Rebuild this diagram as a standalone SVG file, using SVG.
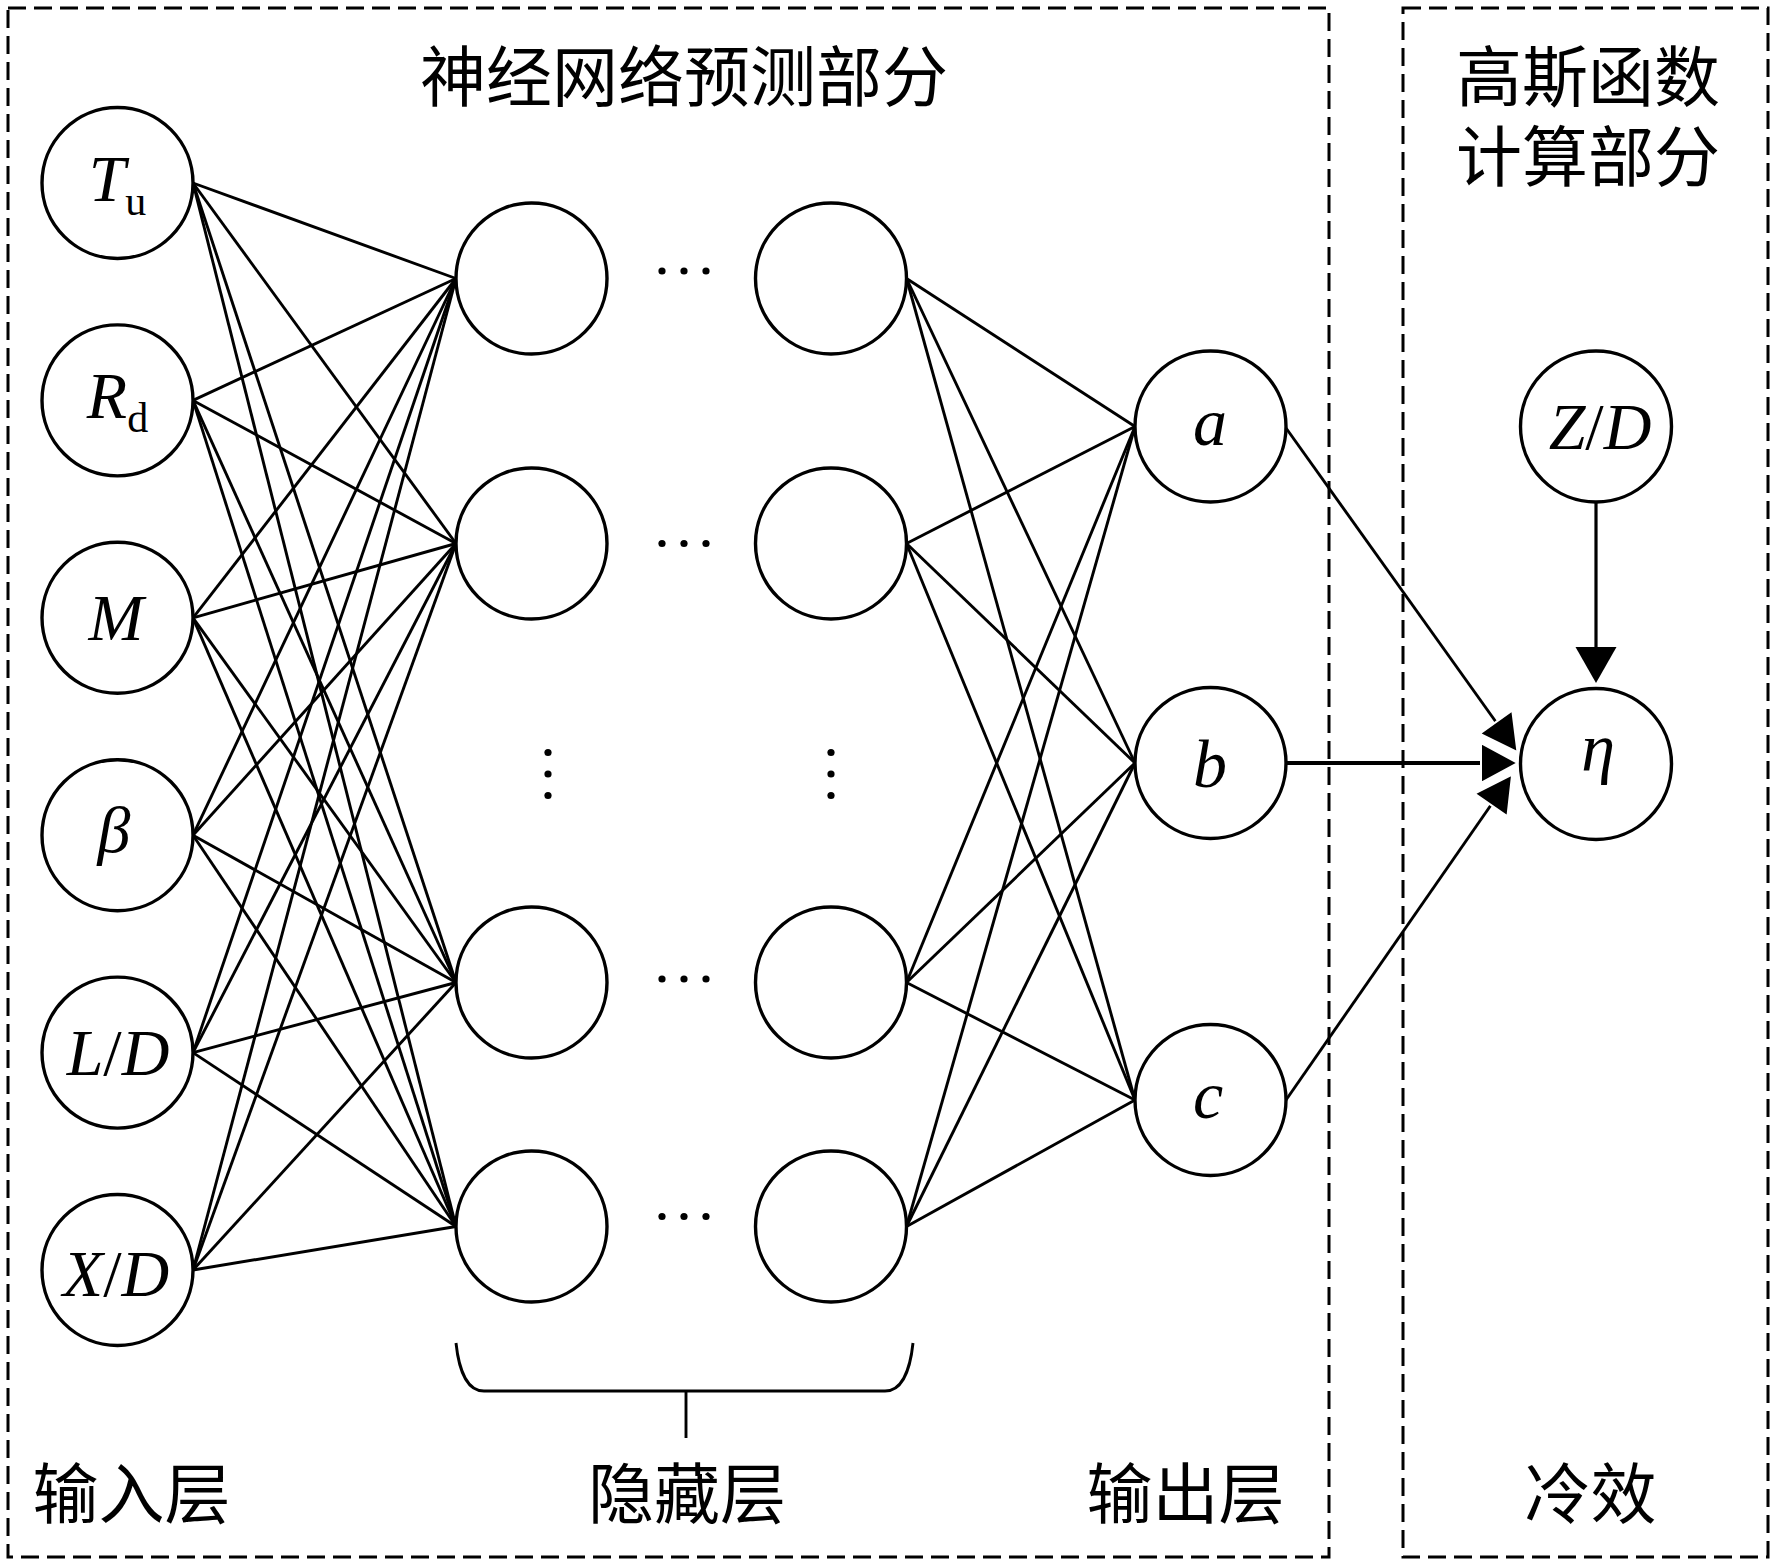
<svg xmlns="http://www.w3.org/2000/svg" width="1772" height="1566" viewBox="0 0 1772 1566">
<style>
.box{fill:none;stroke:#000;stroke-width:3;stroke-dasharray:18 8}
.node{fill:#fff;stroke:#000;stroke-width:3.4}
.ln{stroke:#000;stroke-width:2.9;fill:none}
.lat{font-family:"Liberation Serif","Times New Roman",serif;font-size:66px;font-style:italic;fill:#000}
.sub{font-style:normal;font-size:42px}
.up{font-style:normal}
.cjk{font-family:"Noto Sans CJK SC","Noto Sans CJK TC",sans-serif;font-size:66px;fill:#000}
.dot{fill:#000}
</style>
<defs>
<marker id="arr" markerUnits="userSpaceOnUse" markerWidth="40" markerHeight="44" refX="0" refY="20.5" orient="auto" overflow="visible">
<path d="M0,0 L36,20.5 L0,41 Z" fill="#000"/>
</marker>
<marker id="arrw" markerUnits="userSpaceOnUse" markerWidth="40" markerHeight="44" refX="0" refY="20" orient="auto" overflow="visible">
<path d="M0,0 L37,20 L0,40 Z" fill="#000" stroke="#fff" stroke-width="2"/>
</marker>
</defs>
<rect width="1772" height="1566" fill="#fff"/>

<g id="frames">
<rect class="box" x="8" y="8" width="1321" height="1549"/>
<rect class="box" x="1403" y="8" width="365" height="1549"/>
</g>

<g id="connectors">
<g class="ln">
<line x1="193" y1="183" x2="456" y2="278.5"/><line x1="193" y1="183" x2="456" y2="543.5"/><line x1="193" y1="183" x2="456" y2="982.5"/><line x1="193" y1="183" x2="456" y2="1226.5"/>
<line x1="193" y1="400.4" x2="456" y2="278.5"/><line x1="193" y1="400.4" x2="456" y2="543.5"/><line x1="193" y1="400.4" x2="456" y2="982.5"/><line x1="193" y1="400.4" x2="456" y2="1226.5"/>
<line x1="193" y1="617.8" x2="456" y2="278.5"/><line x1="193" y1="617.8" x2="456" y2="543.5"/><line x1="193" y1="617.8" x2="456" y2="982.5"/><line x1="193" y1="617.8" x2="456" y2="1226.5"/>
<line x1="193" y1="835.2" x2="456" y2="278.5"/><line x1="193" y1="835.2" x2="456" y2="543.5"/><line x1="193" y1="835.2" x2="456" y2="982.5"/><line x1="193" y1="835.2" x2="456" y2="1226.5"/>
<line x1="193" y1="1052.6" x2="456" y2="278.5"/><line x1="193" y1="1052.6" x2="456" y2="543.5"/><line x1="193" y1="1052.6" x2="456" y2="982.5"/><line x1="193" y1="1052.6" x2="456" y2="1226.5"/>
<line x1="193" y1="1270" x2="456" y2="278.5"/><line x1="193" y1="1270" x2="456" y2="543.5"/><line x1="193" y1="1270" x2="456" y2="982.5"/><line x1="193" y1="1270" x2="456" y2="1226.5"/>
<line x1="906.5" y1="278.5" x2="1135" y2="426.5"/><line x1="906.5" y1="278.5" x2="1135" y2="763"/><line x1="906.5" y1="278.5" x2="1135" y2="1100"/>
<line x1="906.5" y1="543.5" x2="1135" y2="426.5"/><line x1="906.5" y1="543.5" x2="1135" y2="763"/><line x1="906.5" y1="543.5" x2="1135" y2="1100"/>
<line x1="906.5" y1="982.5" x2="1135" y2="426.5"/><line x1="906.5" y1="982.5" x2="1135" y2="763"/><line x1="906.5" y1="982.5" x2="1135" y2="1100"/>
<line x1="906.5" y1="1226.5" x2="1135" y2="426.5"/><line x1="906.5" y1="1226.5" x2="1135" y2="763"/><line x1="906.5" y1="1226.5" x2="1135" y2="1100"/>
</g>
<line class="ln" x1="1286" y1="428" x2="1496" y2="722" marker-end="url(#arrw)"/>
<line class="ln" x1="1286" y1="1100" x2="1491" y2="805" marker-end="url(#arrw)"/>
<line x1="1286" y1="763" x2="1481" y2="763" stroke="#000" stroke-width="4.2" marker-end="url(#arrw)"/>
<line x1="1596" y1="502" x2="1596" y2="647" stroke="#000" stroke-width="3.2" marker-end="url(#arr)"/>
<path class="ln" d="M456,1343 C459,1372 468,1391 484,1391 L885,1391 C901,1391 910,1372 913,1343" stroke-width="3.2"/>
<line class="ln" x1="686" y1="1391" x2="686" y2="1438"/>
</g>

<g id="dots">
<circle class="dot" cx="662" cy="271" r="3.6"/><circle class="dot" cx="684" cy="271" r="3.6"/><circle class="dot" cx="706" cy="271" r="3.6"/>
<circle class="dot" cx="662" cy="543.5" r="3.6"/><circle class="dot" cx="684" cy="543.5" r="3.6"/><circle class="dot" cx="706" cy="543.5" r="3.6"/>
<circle class="dot" cx="662" cy="979" r="3.6"/><circle class="dot" cx="684" cy="979" r="3.6"/><circle class="dot" cx="706" cy="979" r="3.6"/>
<circle class="dot" cx="662" cy="1216.5" r="3.6"/><circle class="dot" cx="684" cy="1216.5" r="3.6"/><circle class="dot" cx="706" cy="1216.5" r="3.6"/>
<circle class="dot" cx="548" cy="752.5" r="3.6"/><circle class="dot" cx="548" cy="774" r="3.6"/><circle class="dot" cx="548" cy="795.5" r="3.6"/>
<circle class="dot" cx="831" cy="752.5" r="3.6"/><circle class="dot" cx="831" cy="774" r="3.6"/><circle class="dot" cx="831" cy="795.5" r="3.6"/>
</g>

<g id="in-Tu"><circle class="node" cx="117.5" cy="183" r="75.5"/><text class="lat" x="117.5" y="201" text-anchor="middle">T<tspan class="sub" dy="14">u</tspan></text></g>
<g id="in-Rd"><circle class="node" cx="117.5" cy="400.4" r="75.5"/><text class="lat" x="117.5" y="418" text-anchor="middle">R<tspan class="sub" dy="14">d</tspan></text></g>
<g id="in-M"><circle class="node" cx="117.5" cy="617.8" r="75.5"/><text class="lat" x="116" y="640" text-anchor="middle">M</text></g>
<g id="in-beta"><circle class="node" cx="117.5" cy="835.2" r="75.5"/><text class="lat" x="114" y="852" text-anchor="middle">β</text></g>
<g id="in-LD"><circle class="node" cx="117.5" cy="1052.6" r="75.5"/><text class="lat" x="118" y="1075" text-anchor="middle">L<tspan class="up">/</tspan>D</text></g>
<g id="in-XD"><circle class="node" cx="117.5" cy="1270" r="75.5"/><text class="lat" x="116" y="1296" text-anchor="middle">X<tspan class="up">/</tspan>D</text></g>

<g id="h1-1"><circle class="node" cx="531.5" cy="278.5" r="75.5"/></g>
<g id="h1-2"><circle class="node" cx="531.5" cy="543.5" r="75.5"/></g>
<g id="h1-3"><circle class="node" cx="531.5" cy="982.5" r="75.5"/></g>
<g id="h1-4"><circle class="node" cx="531.5" cy="1226.5" r="75.5"/></g>
<g id="h2-1"><circle class="node" cx="831" cy="278.5" r="75.5"/></g>
<g id="h2-2"><circle class="node" cx="831" cy="543.5" r="75.5"/></g>
<g id="h2-3"><circle class="node" cx="831" cy="982.5" r="75.5"/></g>
<g id="h2-4"><circle class="node" cx="831" cy="1226.5" r="75.5"/></g>

<g id="out-a"><circle class="node" cx="1210.5" cy="426.5" r="75.5"/><text class="lat" x="1210" y="445" text-anchor="middle" style="font-size:68px">a</text></g>
<g id="out-b"><circle class="node" cx="1210.5" cy="763" r="75.5"/><text class="lat" x="1210" y="787" text-anchor="middle" style="font-size:68px">b</text></g>
<g id="out-c"><circle class="node" cx="1210.5" cy="1100" r="75.5"/><text class="lat" x="1208" y="1118" text-anchor="middle" style="font-size:68px">c</text></g>

<g id="ZD"><circle class="node" cx="1596" cy="426.5" r="75.5"/><text class="lat" x="1600" y="449" text-anchor="middle">Z<tspan class="up">/</tspan>D</text></g>
<g id="eta"><circle class="node" cx="1596" cy="764" r="75.5"/><text class="lat" x="1598" y="771" text-anchor="middle" style="font-size:68px">η</text></g>

<g id="labels">
<text class="cjk" x="684" y="101" text-anchor="middle">神经网络预测部分</text>
<text class="cjk" text-anchor="middle"><tspan x="1588" y="101">高斯函数</tspan><tspan x="1588" y="181">计算部分</tspan></text>
<text class="cjk" x="131.5" y="1518" text-anchor="middle">输入层</text>
<text class="cjk" x="687" y="1518" text-anchor="middle">隐藏层</text>
<text class="cjk" x="1185.5" y="1518" text-anchor="middle">输出层</text>
<text class="cjk" x="1590.5" y="1518" text-anchor="middle">冷效</text>
</g>
</svg>
